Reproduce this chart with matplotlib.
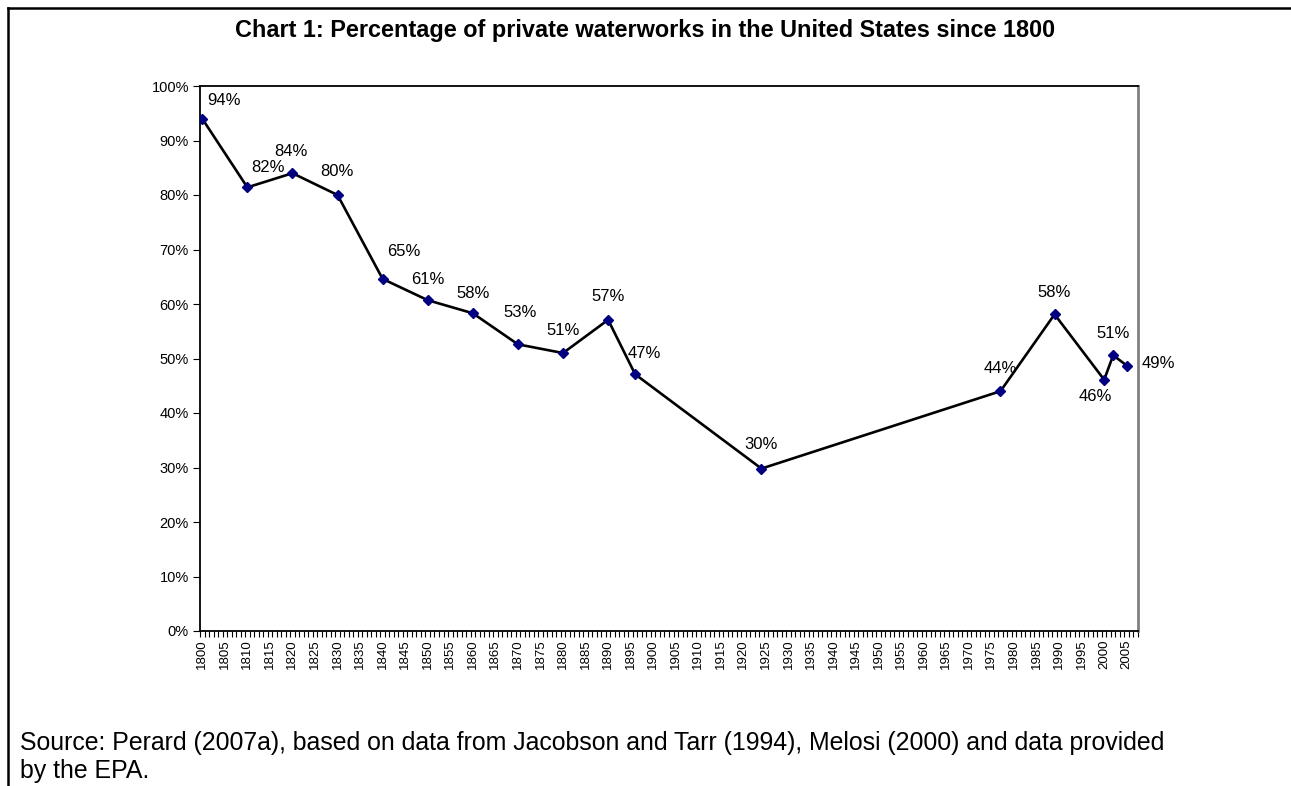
import matplotlib
matplotlib.use("Agg")
import matplotlib.pyplot as plt
from matplotlib.lines import Line2D
from matplotlib.ticker import FixedLocator, FuncFormatter

plt.rcParams['font.family'] = ['Liberation Sans', 'DejaVu Sans']

# ---- data ----
years = [1800, 1810, 1820, 1830, 1840, 1850, 1860, 1870, 1880, 1890, 1896,
         1924, 1977, 1989, 2000, 2002, 2005]
share = [94.0, 81.4, 84.0, 80.0, 64.6, 60.7, 58.3, 52.6, 51.0, 57.1, 47.1,
         29.8, 44.0, 58.1, 46.1, 50.6, 48.7]
labels = ["94%", "82%", "84%", "80%", "65%", "61%", "58%", "53%", "51%", "57%",
          "47%", "30%", "44%", "58%", "46%", "51%", "49%"]
# label offsets in pixels (dx, dy) relative to each point
label_dx = [22, 21, -2, -1, 21, 0, 0, 2, 0, 0, 9, 0, 0, 0, -9, 0, 32]
label_dy = [18, 20, 22, 23, 27, 21, 20, 32, 23, 23, 21, 24, 23, 22, -17, 22, 2]
tick_years = list(range(1800, 2006, 5))
y_ticks = list(range(0, 101, 10))
title = "Chart 1: Percentage of private waterworks in the United States since 1800"
source_lines = ["Source: Perard (2007a), based on data from Jacobson and Tarr (1994), Melosi (2000) and data provided",
                "by the EPA."]

fig = plt.figure(figsize=(12.91, 7.86), dpi=100)
ax = fig.add_axes([200/1291, 1-631/786, (1138-200)/1291, (631-86)/786])

ax.plot(years, share, color='black', lw=1.9, zorder=2)
ax.plot(years, share, ls='none', marker='D', ms=5.5, mfc='#000080', mec='#000080', zorder=3)

for x, y, t, dx, dy in zip(years, share, labels, label_dx, label_dy):
    ax.annotate(t, (x, y), xytext=(dx, dy), textcoords='offset pixels',
                ha='center', va='center', fontsize=12, color='black')

ax.set_xlim(1799.5, 2007.5)
ax.set_ylim(0, 100)

ax.xaxis.set_major_locator(FixedLocator(tick_years))
ax.set_xticklabels([str(y) for y in tick_years], rotation=90, fontsize=9.5)
ax.xaxis.set_minor_locator(FixedLocator([y + 0.5 for y in range(1799, 2008)]))
ax.tick_params(axis='x', which='major', length=0, pad=6)
ax.tick_params(axis='x', which='minor', length=4, width=0.8, direction='out')

ax.yaxis.set_major_locator(FixedLocator(y_ticks))
ax.yaxis.set_major_formatter(FuncFormatter(lambda v, p: f"{int(v)}%"))
ax.tick_params(axis='y', length=5, width=0.8, direction='out', labelsize=10.5, pad=3)

for s in ['left', 'bottom', 'top']:
    ax.spines[s].set_color('black')
    ax.spines[s].set_linewidth(1.3)
ax.spines['right'].set_color('#808080')
ax.spines['right'].set_linewidth(2)

fig.text(645/1291, 1-30/786, title, ha='center', va='center', fontsize=16.9, fontweight='bold')
fig.text(20/1291, 1-743/786, source_lines[0], ha='left', va='center', fontsize=17.9)
fig.text(20/1291, 1-771/786, source_lines[1], ha='left', va='center', fontsize=17.9)

# outer frame lines (left and top)
fig.add_artist(Line2D([8/1291, 8/1291], [0, 1-8/786], color='black', lw=1.8, transform=fig.transFigure))
fig.add_artist(Line2D([8/1291, 1], [1-8/786, 1-8/786], color='black', lw=1.8, transform=fig.transFigure))

fig.savefig("out.png", dpi=100)
